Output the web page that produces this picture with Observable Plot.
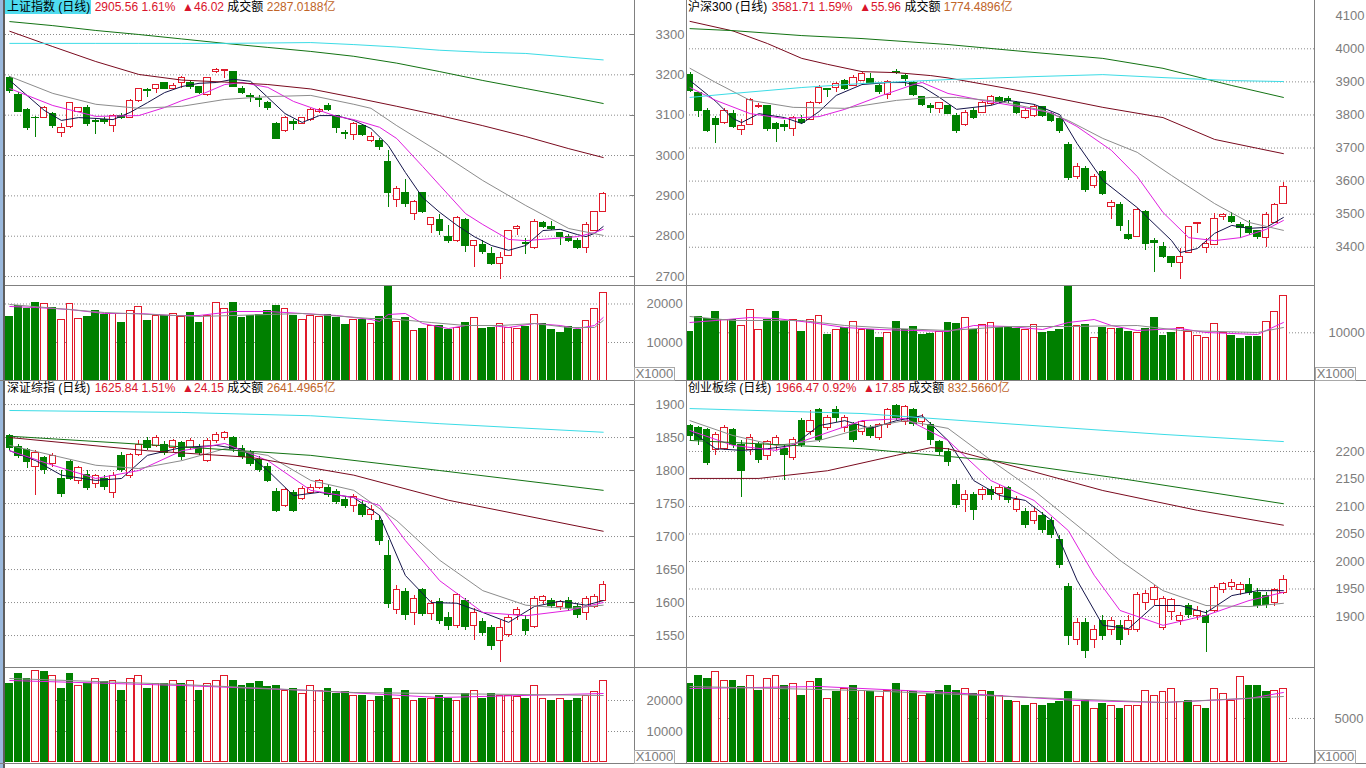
<!DOCTYPE html>
<html lang="zh-CN">
<head>
<meta charset="utf-8">
<title>K线</title>
<script src="https://cdn.jsdelivr.net/npm/d3@7"></script>
<script src="https://cdn.jsdelivr.net/npm/@observablehq/plot@0.6"></script>
<style>
html,body{margin:0;padding:0;background:#fff;}
#root{position:relative;width:1366px;height:768px;overflow:hidden;background:#fff;font-family:"Liberation Sans",Arial,"Noto Sans CJK SC",sans-serif;}
.box{position:absolute;}
.box svg{display:block;max-width:none;}
.ln{position:absolute;background:#808080;z-index:4;}
.title{position:absolute;height:14px;line-height:14px;font-size:12px;white-space:nowrap;color:#000;z-index:5;}
.title .nm{padding:0 1px 0 2px;display:inline-block;}
.title .act{background:#4fdcef;}
.title .r{color:#d9142b;}
.title .o{color:#c06428;}
.unit{position:absolute;width:39px;height:12px;border:1px solid #a8a8a8;font-size:13px;line-height:12px;color:#7c7c7c;text-align:center;background:#fff;z-index:5;}
</style>
</head>
<body>
<div id="root"></div>
<script>
// ---------------- 上证指数 (top-left) ----------------
const shOpen  = [3193,3151,3112,3094,3094,3104,3057,3070,3109,3119, 3086,3089,3072,3099,3094,3134,3162,3166,3179,3166, 3179,3179,3169,3149,3206,3210,3206,3166,3148,3140, 3129,3079,3062,3084,3079,3087,3107,3124,3097,3056, 3052,3072,3035,3037,2983,2889,2908,2856,2906,2829, 2841,2799,2787,2841,2775,2777,2755,2730,2752,2819, 2783,2770,2832,2824,2807,2799,2789,2770,2814,2861];
const shHigh  = [3196,3156,3117,3097,3122,3107,3079,3131,3119,3124, 3092,3094,3102,3104,3139,3166,3166,3176,3181,3179, 3196,3184,3171,3193,3216,3213,3208,3171,3154,3149, 3134,3082,3097,3089,3094,3117,3117,3129,3099,3062, 3082,3074,3057,3042,3013,2923,2941,2889,2908,2846, 2854,2827,2849,2844,2789,2789,2772,2760,2814,2827, 2794,2841,2836,2836,2809,2804,2794,2834,2861,2908];
const shLow   = [3154,3107,3062,3045,3092,3067,3045,3067,3106,3072, 3052,3077,3057,3089,3092,3131,3144,3154,3164,3164, 3166,3164,3151,3146,3203,3191,3169,3151,3131,3119, 3112,3040,3057,3062,3077,3084,3104,3109,3055,3040, 3037,3047,3032,3013,2871,2871,2871,2839,2856,2807, 2802,2782,2784,2760,2722,2755,2727,2693,2750,2802, 2755,2767,2819,2814,2777,2784,2767,2757,2812,2859];
const shClose = [3159,3109,3067,3092,3117,3072,3067,3129,3117,3077, 3082,3082,3097,3093,3136,3164,3160,3174,3166,3172, 3193,3169,3156,3191,3213,3212,3171,3154,3145,3138, 3119,3042,3094,3077,3092,3114,3114,3112,3067,3053, 3079,3050,3045,3022,2908,2916,2879,2886,2859,2844, 2812,2787,2846,2775,2787,2760,2732,2747,2812,2824, 2781,2836,2824,2819,2799,2789,2772,2829,2859,2905.56];
const shVol   = [16569,19348,18647,20386,19867,18828,15894,19867,16153,16491, 18231,17088,17452,15192,18049,19088,15530,16751,16932,17452, 16569,17789,15192,16751,20308,18750,20127,16231,16829,17088, 18049,19348,18647,16829,15712,16751,16569,17192,16309,14491, 15712,15712,14855,16569,24360,15374,16231,12855,13375,14154, 14413,13115,13712,15115,16413,13375,13712,14855,13816,13556, 13972,17192,14855,13115,12595,13972,13115,15530,18750,22906];
const shMA5   = [[0,3186],[2,3149],[4,3112],[6,3087],[8,3094],[10,3092],[12,3089],[14,3107],[16,3131],[18,3156],[20,3171],[22,3179],[24,3181],[26,3189],[28,3184],[30,3144],[32,3104],[34,3082],[36,3099],[38,3099],[40,3087],[42,3067],[44,3025],[46,2958],[48,2896],[50,2859],[52,2827],[54,2799],[56,2777],[58,2765],[60,2777],[62,2814],[64,2817],[66,2804],[67,2799],[68,2807],[69,2824]];
const shMA10  = [[0,3166],[5,3124],[10,3097],[15,3099],[18,3119],[20,3136],[22,3149],[25,3176],[27,3181],[30,3169],[33,3134],[35,3119],[38,3097],[40,3089],[43,3070],[45,3042],[48,2973],[50,2926],[53,2856],[55,2829],[58,2792],[60,2789],[63,2794],[66,2799],[68,2809],[69,2817]];
const shMA20  = [[0,3196],[5,3154],[10,3127],[15,3117],[20,3122],[25,3139],[30,3146],[35,3149],[40,3127],[42,3117],[45,3074],[50,3008],[55,2938],[60,2876],[65,2819],[69,2802]];
const shMA60  = [[0,3308],[5,3270],[10,3233],[15,3201],[20,3187],[25,3182],[30,3176],[35,3165],[40,3144],[45,3122],[50,3099],[55,3074],[60,3047],[65,3017],[69,2995]];
const shMA120 = [[0,3332],[5,3322],[10,3310],[15,3300],[20,3289],[25,3278],[30,3268],[35,3258],[40,3246],[45,3229],[50,3208],[55,3186],[60,3166],[65,3146],[69,3129]];
const shMA250 = [[0,3278],[5,3278],[10,3278],[15,3278],[20,3278],[25,3278],[30,3279],[35,3280],[40,3275],[45,3269],[50,3261],[55,3256],[60,3253],[65,3244],[69,3237]];
const shVMA5  = [[0,19348],[3,19088],[7,18568],[11,17530],[15,17530],[19,17010],[22,17010],[26,18049],[30,18049],[34,17530],[38,17010],[42,15971],[43,15452],[44,17270],[46,17530],[48,14933],[51,13634],[53,14413],[56,14413],[58,13894],[61,14933],[64,14413],[66,13634],[68,14413],[69,16491]];
const shVMA10 = [[0,19867],[11,17789],[22,16751],[34,17530],[42,16231],[44,16231],[49,15192],[53,14413],[57,14413],[61,14933],[65,13894],[68,13894],[69,15712]];
const shTicks = [2700,2800,2900,3000,3100,3200,3300];
const shVolTicks = [10000,20000];

// ---------------- 沪深300 (top-right) ----------------
const hsOpen  = [3922,3865,3813,3789,3777,3804,3756,3771,3823,3826, 3774,3771,3759,3786,3786,3835,3878,3883,3904,3889, 3904,3910,3889,3859,3930,3919,3898,3853,3826,3817, 3826,3798,3771,3813,3807,3832,3850,3847,3835,3792, 3798,3823,3804,3789,3708,3611,3638,3584,3629,3523, 3529,3438,3432,3508,3420,3402,3369,3351,3384,3469, 3399,3408,3490,3490,3466,3460,3448,3429,3474,3532];
const hsHigh  = [3928,3868,3820,3795,3820,3813,3786,3850,3835,3829, 3777,3783,3795,3798,3841,3889,3880,3898,3907,3919, 3928,3925,3892,3904,3937,3922,3901,3856,3835,3838, 3829,3804,3813,3820,3841,3859,3856,3856,3841,3819, 3829,3826,3807,3795,3717,3653,3644,3620,3632,3541, 3535,3481,3517,3511,3426,3414,3372,3396,3463,3475, 3426,3502,3502,3505,3475,3481,3450,3505,3532,3596];
const hsLow   = [3868,3792,3747,3714,3771,3759,3738,3768,3820,3750, 3717,3750,3735,3771,3783,3831,3853,3868,3874,3886, 3901,3892,3862,3847,3922,3886,3856,3826,3804,3804, 3801,3744,3765,3786,3804,3828,3832,3835,3801,3786, 3792,3792,3777,3744,3602,3605,3566,3578,3556,3484, 3448,3420,3429,3390,3324,3366,3339,3302,3381,3441, 3381,3405,3481,3472,3426,3435,3423,3399,3472,3529];
const hsClose = [3871,3813,3750,3771,3813,3765,3768,3844,3828,3759, 3759,3765,3792,3777,3835,3883,3875,3895,3877,3913, 3925,3895,3868,3901,3927,3910,3859,3829,3820,3835, 3804,3750,3807,3792,3835,3853,3838,3841,3807,3813, 3823,3798,3783,3750,3608,3644,3572,3611,3562,3535, 3463,3426,3514,3411,3414,3369,3351,3369,3460,3472, 3411,3484,3496,3475,3457,3442,3432,3496,3529,3581.71];
const hsVol   = [10126,13239,12907,14421,12761,12699,11309,14629,10624,12699, 14276,12201,12554,10126,12699,13591,9587,10479,10956,12346, 10686,10686,8881,9919,12201,10479,11164,9587,9794,10126, 11994,11724,13114,10686,11662,12077,10956,11164,10832,10624, 11662,9919,10064,10624,19464,11309,11662,8964,10956,10832, 10832,10126,9919,10832,13114,9441,9919,11039,10271,9234, 8964,11869,10002,9296,8757,9089,9089,12346,14421,17741];
const hsMA5   = [[0,3904],[3,3841],[5,3789],[6,3777],[8,3804],[11,3792],[13,3774],[15,3810],[17,3859],[20,3892],[23,3898],[25,3898],[27,3886],[29,3853],[31,3817],[35,3829],[37,3844],[40,3832],[43,3801],[45,3714],[48,3602],[52,3520],[56,3420],[57,3384],[59,3396],[61,3442],[63,3466],[65,3457],[67,3460],[69,3490]];
const hsMA10  = [[0,3883],[3,3844],[7,3804],[11,3789],[15,3795],[18,3817],[22,3856],[26,3892],[27,3898],[30,3865],[34,3844],[38,3826],[42,3807],[45,3765],[49,3693],[52,3614],[55,3505],[58,3429],[61,3420],[64,3429],[67,3454],[69,3481]];
const hsMA20  = [[0,3941],[3,3898],[7,3844],[12,3823],[18,3820],[24,3844],[28,3853],[31,3853],[36,3841],[41,3814],[44,3783],[48,3729],[52,3687],[56,3617],[61,3532],[65,3475],[69,3451]];
const hsMA60  = [[0,4083],[5,4054],[9,4016],[13,3971],[16,3953],[20,3931],[24,3928],[28,3919],[30,3912],[35,3889],[40,3865],[48,3823],[55,3792],[61,3726],[66,3699],[69,3683]];
const hsMA120 = [[0,4061],[5,4055],[13,4040],[20,4031],[30,4013],[40,3989],[48,3971],[55,3941],[63,3889],[69,3853]];
const hsMA250 = [[0,3853],[5,3865],[13,3883],[20,3895],[30,3907],[40,3916],[48,3922],[55,3913],[63,3904],[69,3901]];
const hsVMA5  = [[0,12139],[3,12554],[7,13176],[10,12969],[14,12139],[18,11101],[22,10686],[26,10479],[30,10271],[33,11516],[37,11309],[41,10686],[44,12139],[47,12761],[49,11516],[52,10479],[57,10894],[60,10064],[66,9649],[69,12139]];
const hsVMA10 = [[0,13384],[5,12554],[13,12554],[18,11516],[24,10894],[30,10479],[37,11309],[44,11309],[52,11516],[57,10479],[66,10064],[69,11101]];
const hsTicks = [3400,3500,3600,3700,3800,3900,4000,4100];
const hsGrid  = [3400,3500,3600,3700,3800,3900,4000];
const hsVolTicks = [10000];

// ---------------- 深证综指 (bottom-left) ----------------
const szOpen  = [1851.6,1836.4,1830.4,1806.1,1818.3,1809.2,1787.9,1812.2,1784.9,1794.0, 1778.9,1787.9,1766.7,1821.3,1791.0,1824.3,1845.5,1837.9,1839.4,1833.4, 1841.0,1834.9,1834.9,1815.2,1844.0,1850.0,1850.0,1831.9,1827.3,1816.7, 1806.1,1768.2,1747.0,1766.7,1757.6,1766.7,1774.3,1774.3,1768.2,1756.1, 1747.0,1748.5,1731.9,1724.3,1669.8,1588.0,1615.3,1584.9,1618.3,1581.9, 1600.1,1577.3,1565.2,1603.1,1565.2,1569.8,1560.7,1542.5,1550.1,1580.4, 1574.3,1563.7,1601.6,1603.1,1594.0,1603.1,1594.0,1584.9,1594.0,1603.1];
const szHigh  = [1854.6,1839.4,1833.4,1830.4,1821.3,1825.8,1800.1,1815.2,1806.1,1800.1, 1794.0,1792.5,1797.0,1827.3,1825.8,1845.5,1850.0,1853.1,1844.0,1847.0, 1844.0,1848.5,1839.4,1848.5,1857.6,1859.1,1851.6,1837.9,1830.4,1821.3, 1810.7,1772.8,1772.8,1769.8,1775.8,1778.9,1786.4,1778.9,1771.3,1760.7, 1763.7,1754.6,1747.0,1731.9,1694.0,1625.8,1621.3,1610.7,1621.3,1603.1, 1606.1,1584.9,1613.7,1606.1,1591.0,1575.8,1565.2,1572.8,1580.4,1592.5, 1580.4,1609.2,1610.7,1606.1,1603.1,1607.7,1598.6,1609.2,1612.2,1631.9];
const szLow   = [1830.4,1818.3,1803.1,1762.2,1794.0,1804.6,1759.2,1784.9,1778.9,1769.8, 1772.8,1769.8,1757.6,1797.0,1787.9,1821.3,1830.4,1834.9,1822.8,1827.3, 1815.2,1830.4,1822.8,1812.2,1841.0,1845.5,1827.3,1816.7,1806.1,1797.0, 1781.9,1736.4,1744.0,1736.4,1754.6,1763.7,1771.3,1759.2,1748.5,1742.5, 1736.4,1728.8,1724.3,1686.4,1591.0,1581.9,1572.8,1565.2,1578.9,1572.8, 1566.7,1557.6,1560.7,1557.6,1542.5,1548.6,1527.4,1509.2,1547.1,1572.8, 1550.1,1560.7,1597.1,1591.0,1588.0,1586.4,1575.8,1572.8,1591.0,1601.6];
const szClose = [1834.9,1821.3,1812.2,1827.3,1800.1,1821.3,1765.2,1787.9,1803.1,1772.8, 1791.0,1775.8,1791.0,1800.1,1822.8,1839.4,1833.4,1850.0,1827.3,1844.0, 1819.8,1844.0,1827.3,1845.5,1854.6,1857.6,1831.9,1819.8,1809.2,1800.1, 1784.9,1739.4,1769.8,1739.4,1771.3,1774.3,1783.4,1762.2,1751.6,1747.0, 1759.2,1731.9,1740.9,1694.0,1597.1,1618.3,1580.4,1606.1,1583.4,1597.1, 1572.8,1565.2,1610.7,1563.7,1584.9,1554.6,1534.9,1560.7,1577.3,1588.0, 1557.6,1606.1,1607.7,1595.5,1600.1,1591.0,1580.4,1606.1,1607.7,1625.84];
const szVol   = [25485,28389,27098,29357,29034,27744,23872,28711,24518,25163, 27098,25808,26131,23227,26776,28066,23872,25485,25485,26131, 25163,26453,23227,25163,26453,27744,26131,24840,25485,25808, 24195,24840,23227,23872,21937,24518,23227,23550,21937,22582, 21614,21614,20001,20969,23872,20646,23227,20001,20646,20324, 21292,20646,20001,21937,22905,20646,21937,21292,21614,20969, 20324,24518,20646,20001,20324,20001,20646,21614,22582,26453];
const szMA5   = [[0,1830],[3,1815],[6,1793],[10,1785],[13,1788],[16,1823],[20,1835],[24,1838],[27,1832],[30,1800],[33,1762],[36,1767],[40,1759],[43,1732],[46,1641],[49,1600],[52,1599],[55,1585],[58,1570],[61,1594],[64,1602],[67,1596],[69,1603]];
const szMA10  = [[0,1830],[5,1808],[10,1788],[15,1800],[20,1830],[25,1841],[30,1815],[35,1770],[40,1759],[43,1747],[46,1694],[50,1633],[55,1585],[60,1580],[65,1588],[69,1600]];
const szMA20  = [[0,1838],[5,1823],[10,1808],[15,1803],[20,1815],[25,1833],[30,1823],[35,1785],[40,1770],[45,1724],[50,1664],[55,1618],[60,1596],[65,1591],[69,1596]];
const szMA60  = [[0,1850],[16,1830],[28,1820],[40,1793],[51,1755],[69,1708]];
const szMA120 = [[0,1852],[20,1836],[35,1823],[50,1800],[69,1770]];
const szMA250 = [[0,1891],[20,1888],[35,1883],[50,1871],[69,1858]];
const szVMA5  = [[0,26453],[20,24840],[35,23227],[50,20969],[69,22259]];
const szVMA10 = [[0,27098],[20,25163],[40,22582],[69,21614]];
const szTicks = [1550,1600,1650,1700,1750,1800,1850,1900];
const szVolTicks = [10000,20000];

// ---------------- 创业板综 (bottom-right) ----------------
const cyOpen  = [2245.4,2241.8,2238.2,2201.8,2205.4,2238.2,2210.9,2201.8,2210.9,2190.9, 2210.9,2205.4,2187.3,2256.3,2234.5,2274.5,2241.8,2274.5,2241.8,2247.3, 2234.5,2241.8,2225.4,2247.3,2281.8,2252.7,2274.5,2252.7,2247.3,2216.4, 2198.2,2138.2,2110.9,2120.0,2120.0,2129.1,2123.6,2132.7,2092.7,2089.1, 2074.5,2081.8,2074.5,2038.2,1954.5,1856.4,1889.1,1856.4,1892.7,1874.6, 1883.6,1874.6,1874.6,1923.7,1929.1,1878.2,1907.3,1892.7,1920.0,1901.8, 1901.8,1910.9,1947.3,1954.5,1947.3,1956.4,1943.6,1936.4,1923.7,1943.6];
const cyHigh  = [2249.1,2245.4,2241.8,2234.5,2247.3,2241.8,2220.0,2230.9,2216.4,2220.0, 2229.1,2210.9,2225.4,2260.0,2274.5,2278.2,2265.4,2281.8,2265.4,2252.7, 2256.3,2247.3,2250.9,2278.2,2285.4,2283.6,2278.2,2267.2,2252.7,2220.0, 2205.4,2147.3,2129.1,2125.4,2134.5,2136.4,2138.2,2136.4,2118.2,2096.4, 2096.4,2089.1,2080.0,2047.3,1960.0,1896.4,1896.4,1883.6,1901.8,1898.2, 1892.7,1901.8,1943.6,1947.3,1956.4,1936.4,1932.7,1907.3,1923.7,1918.2, 1910.9,1956.4,1961.8,1967.3,1961.8,1969.1,1950.9,1943.6,1950.9,1974.6];
const cyLow   = [2220.0,2210.9,2174.5,2192.7,2201.8,2205.4,2116.4,2192.7,2178.2,2183.6, 2201.8,2147.3,2183.6,2207.3,2229.1,2216.4,2238.2,2252.7,2234.5,2216.4, 2229.1,2223.6,2220.0,2241.8,2256.3,2247.3,2245.4,2245.4,2210.9,2192.7, 2172.7,2096.4,2089.1,2074.5,2110.9,2110.9,2110.9,2105.4,2089.1,2060.0, 2067.3,2050.9,2041.8,1987.3,1847.3,1847.3,1823.7,1841.8,1856.4,1865.4, 1847.3,1865.4,1870.9,1910.9,1920.0,1874.6,1892.7,1883.6,1896.4,1892.7, 1834.6,1907.3,1941.8,1947.3,1938.2,1938.2,1914.6,1914.6,1918.2,1940.0];
const cyClose = [2227.3,2220.0,2178.2,2229.1,2241.8,2210.9,2165.4,2225.4,2183.6,2216.4, 2225.4,2192.7,2220.0,2210.9,2256.3,2220.0,2260.0,2260.0,2260.0,2220.0, 2252.7,2227.3,2247.3,2274.5,2260.0,2280.0,2249.1,2260.0,2220.0,2198.2, 2180.0,2101.8,2120.0,2092.7,2129.1,2120.0,2132.7,2110.9,2110.9,2065.5, 2089.1,2056.4,2047.3,1992.8,1865.4,1889.1,1838.2,1874.6,1865.4,1892.7, 1856.4,1892.7,1938.2,1941.8,1952.7,1932.7,1929.1,1901.8,1903.6,1910.9, 1889.1,1952.7,1958.2,1961.8,1956.4,1943.6,1920.0,1921.8,1947.3,1966.47];
const cyVol   = [8974,9770,9542,10224,9315,9315,8520,9770,8179,9429, 9770,8747,8974,7611,9088,9429,7270,7952,8406,8747, 8179,7952,7384,8179,8861,8179,7952,7611,7838,8179, 8634,8179,8406,7725,8179,7952,7498,7043,6816,6362, 6589,6362,6589,6816,7952,6475,7043,6134,6589,6362, 6134,6362,6475,8179,7498,7952,8406,6816,7043,6475, 6134,8406,7725,7043,9656,8634,8634,7952,8179,8406];
const cyMA5   = [[0,2238],[3,2205],[6,2202],[9,2205],[12,2211],[15,2247],[18,2256],[21,2242],[24,2256],[27,2265],[30,2220],[33,2147],[36,2120],[39,2111],[42,2075],[45,1966],[48,1884],[51,1878],[54,1920],[57,1920],[60,1907],[63,1938],[66,1947],[69,1947]];
const cyMA10  = [[0,2238],[5,2211],[10,2202],[15,2229],[20,2256],[25,2260],[30,2220],[35,2147],[40,2111],[44,2056],[47,1975],[50,1911],[55,1884],[60,1902],[65,1929],[69,1944]];
const cyMA20  = [[0,2256],[5,2229],[10,2211],[15,2220],[20,2242],[25,2256],[30,2242],[35,2184],[40,2129],[45,2066],[50,2002],[55,1947],[60,1920],[65,1918],[69,1924]];
const cyMA60  = [[0,2151],[8,2151],[16,2165],[24,2193],[28,2207],[30,2205],[36,2180],[48,2129],[59,2093],[69,2066]];
const cyMA120 = [[0,2220],[20,2205],[35,2184],[50,2151],[69,2105]];
const cyMA250 = [[0,2278],[20,2269],[40,2247],[55,2231],[69,2218]];
const cyVMA5  = [[0,8406],[15,8634],[30,7952],[45,7043],[55,6816],[65,7270],[69,7952]];
const cyVMA10 = [[0,8634],[20,8179],[40,7384],[55,6816],[69,7498]];
const cyTicks = [1900,1950,2000,2050,2100,2150,2200];
const cyVolTicks = [5000];

// titles
const titleNames  = ["上证指数","沪深300","深证综指","创业板综"];
const titleLast   = ["2905.56","3581.71","1625.84","1966.47"];
const titlePct    = ["1.61%","1.59%","1.51%","0.92%"];
const titleChg    = ["46.02","55.96","24.15","17.85"];
const titleAmount = ["2287.0188亿","1774.4896亿","2641.4965亿","832.5660亿"];

// ---------------- drawing ----------------
const RED = "#e01a2a", GREEN = "#008000";
const MA_COLORS = ["#14144a","#e020e0","#8c8c8c","#7a0a1e","#137313","#3cdce6"];
const VMA_COLORS = ["#e020e0","#8c8c8c"];
const STEP = 8.6, HB = 0.38, VB = 0.4;
const FONT = '"Liberation Sans", Arial, sans-serif';
const root = document.getElementById("root");

const panels = [
  {left:5, top:0, priceH:285, volTop:285, volH:96, plotW:629, x0:-0.5,
   open:shOpen, high:shHigh, low:shLow, close:shClose, vol:shVol,
   ma:[shMA5,shMA10,shMA20,shMA60,shMA120,shMA250], vma:[shVMA5,shVMA10],
   yDomain:[2677.8,3384.3], yTicks:shTicks, yGrid:shTicks, vDomain:[-130,24801], vTicks:shVolTicks, pricePad:21, volPad:12},
  {left:686, top:0, priceH:285, volTop:285, volH:96, plotW:628, x0:-0.407,
   open:hsOpen, high:hsHigh, low:hsLow, close:hsClose, vol:hsVol,
   ma:[hsMA5,hsMA10,hsMA20,hsMA60,hsMA120,hsMA250], vma:[hsVMA5,hsVMA10],
   yDomain:[3284.3,4146.1], yTicks:hsTicks, yGrid:hsGrid, vDomain:[-104,19816], vTicks:hsVolTicks, pricePad:21, volPad:14},
  {left:5, top:381, priceH:286, volTop:667, volH:96, plotW:629, x0:-0.5,
   open:szOpen, high:szHigh, low:szLow, close:szClose, vol:szVol,
   ma:[szMA5,szMA10,szMA20,szMA60,szMA120,szMA250], vma:[szVMA5,szVMA10],
   yDomain:[1501.6,1934.9], yTicks:szTicks, yGrid:szTicks, vDomain:[-323,30647], vTicks:szVolTicks, pricePad:21, volPad:12},
  {left:686, top:381, priceH:286, volTop:667, volH:96, plotW:628, x0:-0.407,
   open:cyOpen, high:cyHigh, low:cyLow, close:cyClose, vol:cyVol,
   ma:[cyMA5,cyMA10,cyMA20,cyMA60,cyMA120,cyMA250], vma:[cyVMA5,cyVMA10],
   yDomain:[1807.3,2327.2], yTicks:cyTicks, yGrid:cyTicks, vDomain:[-114,10792], vTicks:cyVolTicks, pricePad:21, volPad:20}
];

function place(node, left, top) {
  const d = document.createElement("div");
  d.className = "box";
  d.style.left = left + "px";
  d.style.top = top + "px";
  d.appendChild(node);
  root.appendChild(d);
}

const plotStyle = {fontFamily: FONT, fontSize: "13px", color: "#7c7c7c", background: "transparent", overflow: "visible"};

panels.forEach(p => {
  const rows = p.open.map((o, i) => ({i, o, h: p.high[i], l: p.low[i], c: p.close[i], v: p.vol[i], up: p.close[i] >= o}));
  const up = rows.filter(d => d.up), dn = rows.filter(d => !d.up);
  const xDomain = [p.x0, p.x0 + p.plotW / STEP];
  const price = Plot.plot({
    width: p.plotW + 52, height: p.priceH,
    marginLeft: 0, marginRight: 52, marginTop: 0, marginBottom: 0,
    style: plotStyle,
    x: {domain: xDomain, axis: null},
    y: {domain: p.yDomain, axis: "right", ticks: p.yTicks, tickSize: 0, tickPadding: p.pricePad, tickFormat: d => String(d), label: null},
    marks: [
      Plot.ruleY(p.yGrid, {stroke: "#8a8a8a", strokeDasharray: "1,2"}),
      Plot.ruleX(dn, {x: "i", y1: "l", y2: "h", stroke: GREEN, shapeRendering: "crispEdges"}),
      Plot.ruleX(up, {x: "i", y1: "l", y2: "h", stroke: RED, shapeRendering: "crispEdges"}),
      Plot.rect(dn, {x1: d => d.i - HB, x2: d => d.i + HB, y1: "o", y2: "c", fill: GREEN, stroke: GREEN, shapeRendering: "crispEdges"}),
      Plot.rect(up, {x1: d => d.i - HB, x2: d => d.i + HB, y1: "o", y2: "c", fill: "white", stroke: RED, shapeRendering: "crispEdges"}),
      ...p.ma.map((m, k) => Plot.line(m, {x: d => d[0], y: d => d[1], stroke: MA_COLORS[k], strokeWidth: 1}))
    ]
  });
  place(price, p.left, p.top);

  const volume = Plot.plot({
    width: p.plotW + 52, height: p.volH,
    marginLeft: 0, marginRight: 52, marginTop: 0, marginBottom: 0,
    style: plotStyle,
    x: {domain: xDomain, axis: null},
    y: {domain: p.vDomain, axis: "right", ticks: p.vTicks, tickSize: 0, tickPadding: p.volPad, tickFormat: d => String(d), label: null},
    marks: [
      Plot.ruleY(p.vTicks, {stroke: "#8a8a8a", strokeDasharray: "1,2"}),
      Plot.rect(dn, {x1: d => d.i - VB, x2: d => d.i + VB, y1: 0, y2: "v", fill: GREEN, stroke: GREEN, shapeRendering: "crispEdges"}),
      Plot.rect(up, {x1: d => d.i - VB, x2: d => d.i + VB, y1: 0, y2: "v", fill: "white", stroke: RED, shapeRendering: "crispEdges"}),
      ...p.vma.map((m, k) => Plot.line(m, {x: d => d[0], y: d => d[1], stroke: VMA_COLORS[k], strokeWidth: 1}))
    ]
  });
  place(volume, p.left, p.volTop);
});

// titles
panels.forEach((p, k) => {
  const t = document.createElement("div");
  t.className = "title";
  t.style.left = (p.left) + "px";
  t.style.top = (p.top) + "px";
  t.innerHTML = `<span class="nm${k === 0 ? " act" : ""}">${titleNames[k]} (日线)</span> ` +
    `<span class="r">${titleLast[k]} ${titlePct[k]}</span>&nbsp; <span class="r">▲${titleChg[k]}</span> ` +
    `<span>成交额</span> <span class="o">${titleAmount[k]}</span>`;
  root.appendChild(t);
});

// frame lines
function line(x, y, w, h, color) {
  const d = document.createElement("div");
  d.className = "ln";
  d.style.left = x + "px"; d.style.top = y + "px";
  d.style.width = w + "px"; d.style.height = h + "px";
  if (color) d.style.background = color;
  root.appendChild(d);
}
line(0, 0, 3, 768, "#9ab8dc");
line(3, 0, 2, 768, "#5e5e5e");
line(634, 0, 1, 763);
line(686, 0, 1, 763);
line(1314, 0, 1, 763);
line(5, 285, 1309, 1);
line(0, 380, 1366, 1);
line(5, 667, 1309, 1);
line(0, 763, 1366, 1);

// small tick marks beside the left-panel price labels
[[shTicks, 0, 2677.8, 3384.3, 285], [szTicks, 381, 1501.6, 1934.9, 286]].forEach(([ticks, top, lo, hi, h]) => {
  const yScale = d3.scaleLinear().domain([lo, hi]).range([top + h, top]);
  ticks.forEach(v => line(630, Math.round(yScale(v)), 4, 1));
});

// unit boxes
[[634, 367], [1315, 367], [634, 750], [1315, 750]].forEach(([x, y]) => {
  const u = document.createElement("div");
  u.className = "unit";
  u.style.left = x + "px"; u.style.top = y + "px";
  u.textContent = "X1000";
  root.appendChild(u);
});
</script>
</body>
</html>
